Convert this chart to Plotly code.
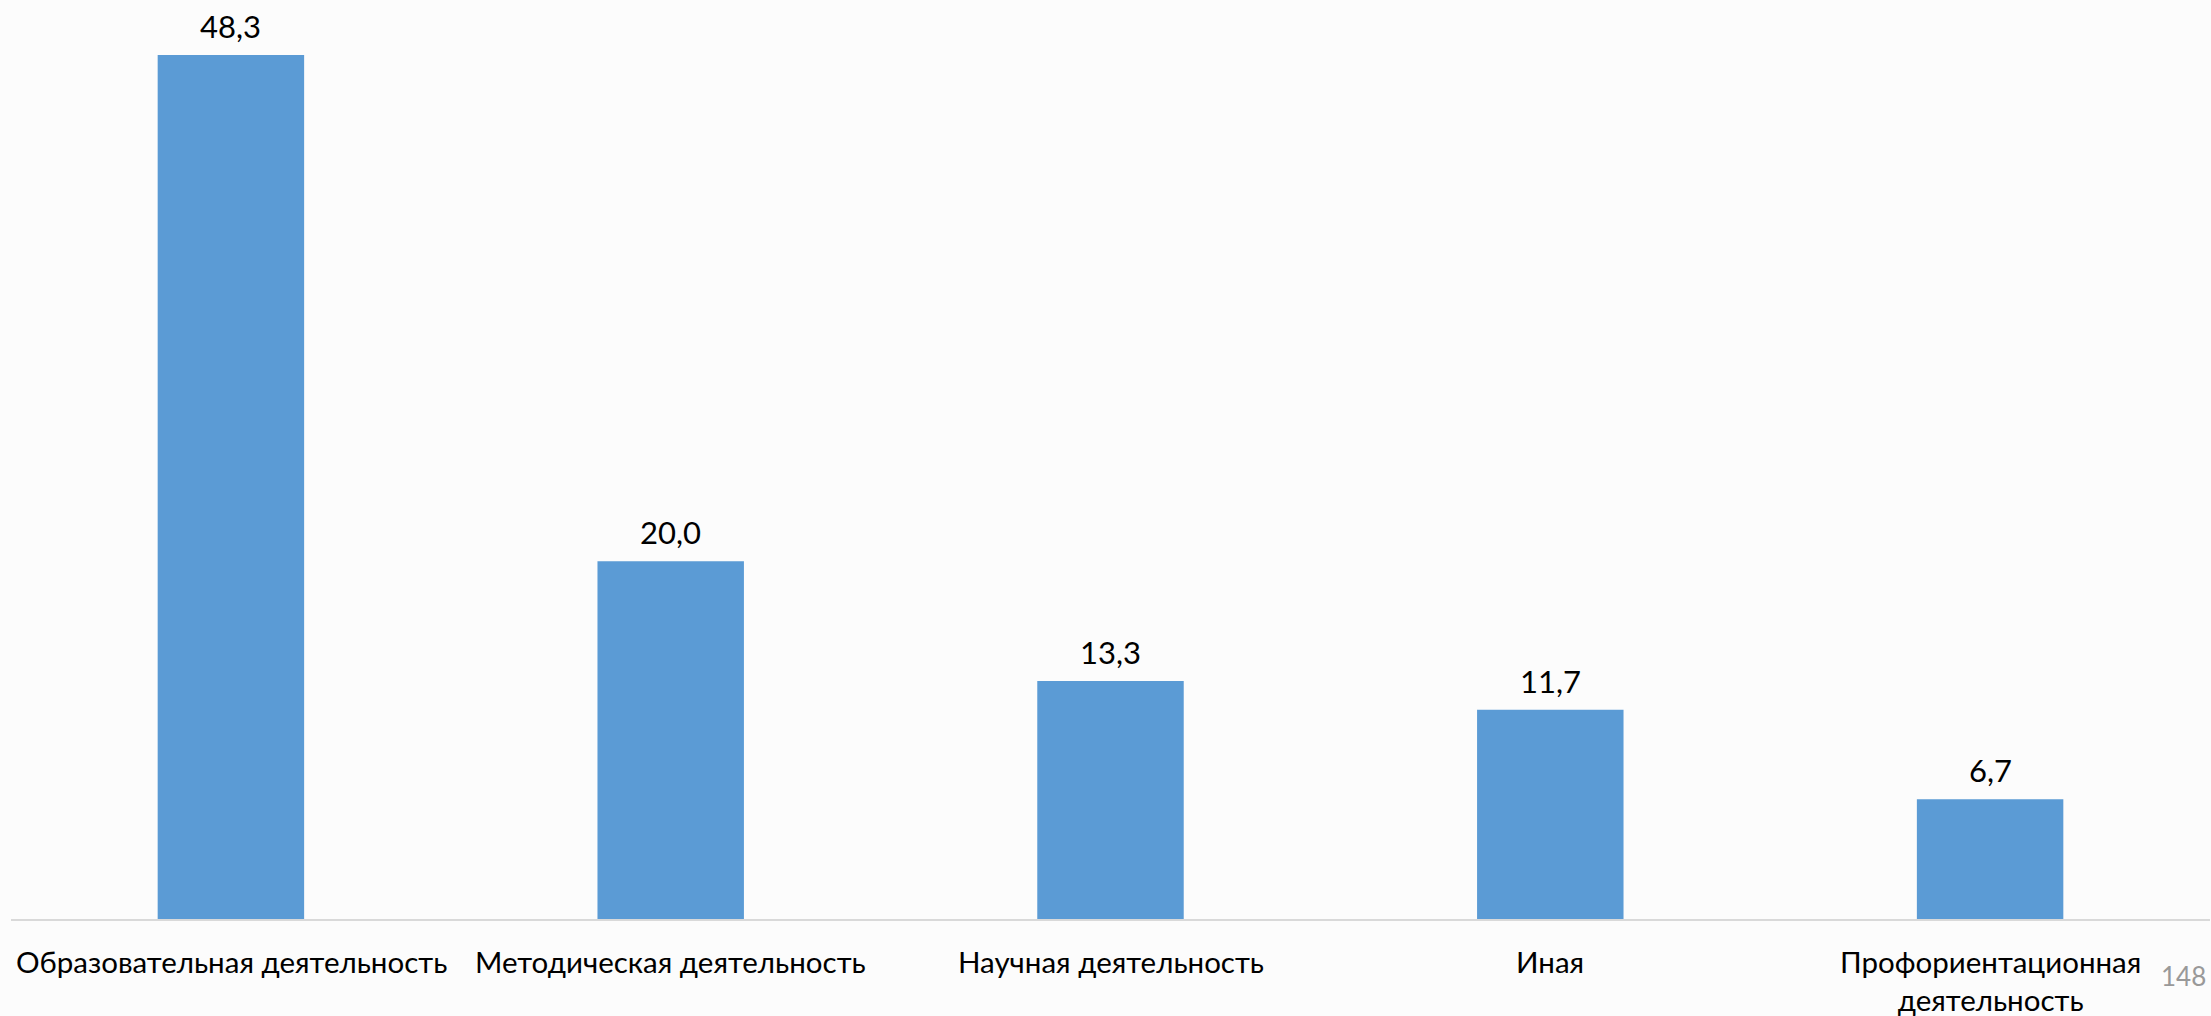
import plotly.graph_objects as go

categories = [
    "Образовательная деятельность",
    "Методическая деятельность",
    "Научная деятельность",
    "Иная",
    "Профориентационная<br>деятельность",
]
values = [48.3, 20.0, 13.3, 11.7, 6.7]
page_number = "148"

BAR_COLOR = "#5B9BD5"
FONT = "Lato, 'Open Sans', sans-serif"
FS_CAT = 29.5
FS_VAL = 31

fig = go.Figure()
fig.add_trace(go.Bar(
    x=categories,
    y=values,
    marker=dict(color=BAR_COLOR, line=dict(width=0)),
    hoverinfo="skip",
))

annotations = []
# value labels
for c, v in zip(categories, values):
    annotations.append(dict(
        x=c, y=v, xref="x", yref="y",
        text=f"{v:.1f}".replace(".", ","),
        showarrow=False, xanchor="center", yanchor="bottom",
        yshift=8,
        font=dict(family=FONT, size=FS_VAL, color="#000000"),
    ))
# category labels
for i, c in enumerate(categories):
    a = dict(
        x=c, y=0, xref="x", yref="paper",
        text=c, showarrow=False, yanchor="top", yshift=-23,
        align="center",
        font=dict(family=FONT, size=FS_CAT, color="#000000"),
    )
    if i == 0:
        a.update(xanchor="left", xshift=-217)
    else:
        a.update(xanchor="center")
    annotations.append(a)
# page number
annotations.append(dict(
    x=1, y=0, xref="paper", yref="paper", text=page_number,
    showarrow=False, xanchor="right", yanchor="top", yshift=-39, xshift=-2,
    font=dict(family=FONT, size=26, color="#999999"),
))

fig.update_layout(
    width=2211, height=1016,
    margin=dict(l=11, r=1, t=0, b=97, pad=0),
    paper_bgcolor="#FCFCFC",
    plot_bgcolor="#FCFCFC",
    bargap=0.667,
    showlegend=False,
    annotations=annotations,
    xaxis=dict(
        showticklabels=False, ticks="", showgrid=False, zeroline=False,
        showline=True, linecolor="#D9D9D9", linewidth=2,
    ),
    yaxis=dict(
        range=[0, 51.37], visible=False, showgrid=False, zeroline=False,
    ),
)

fig.write_html(
    "out.html",
    config={"displayModeBar": False},
    post_script="document.body.style.margin='0';document.body.style.overflow='hidden';",
)
